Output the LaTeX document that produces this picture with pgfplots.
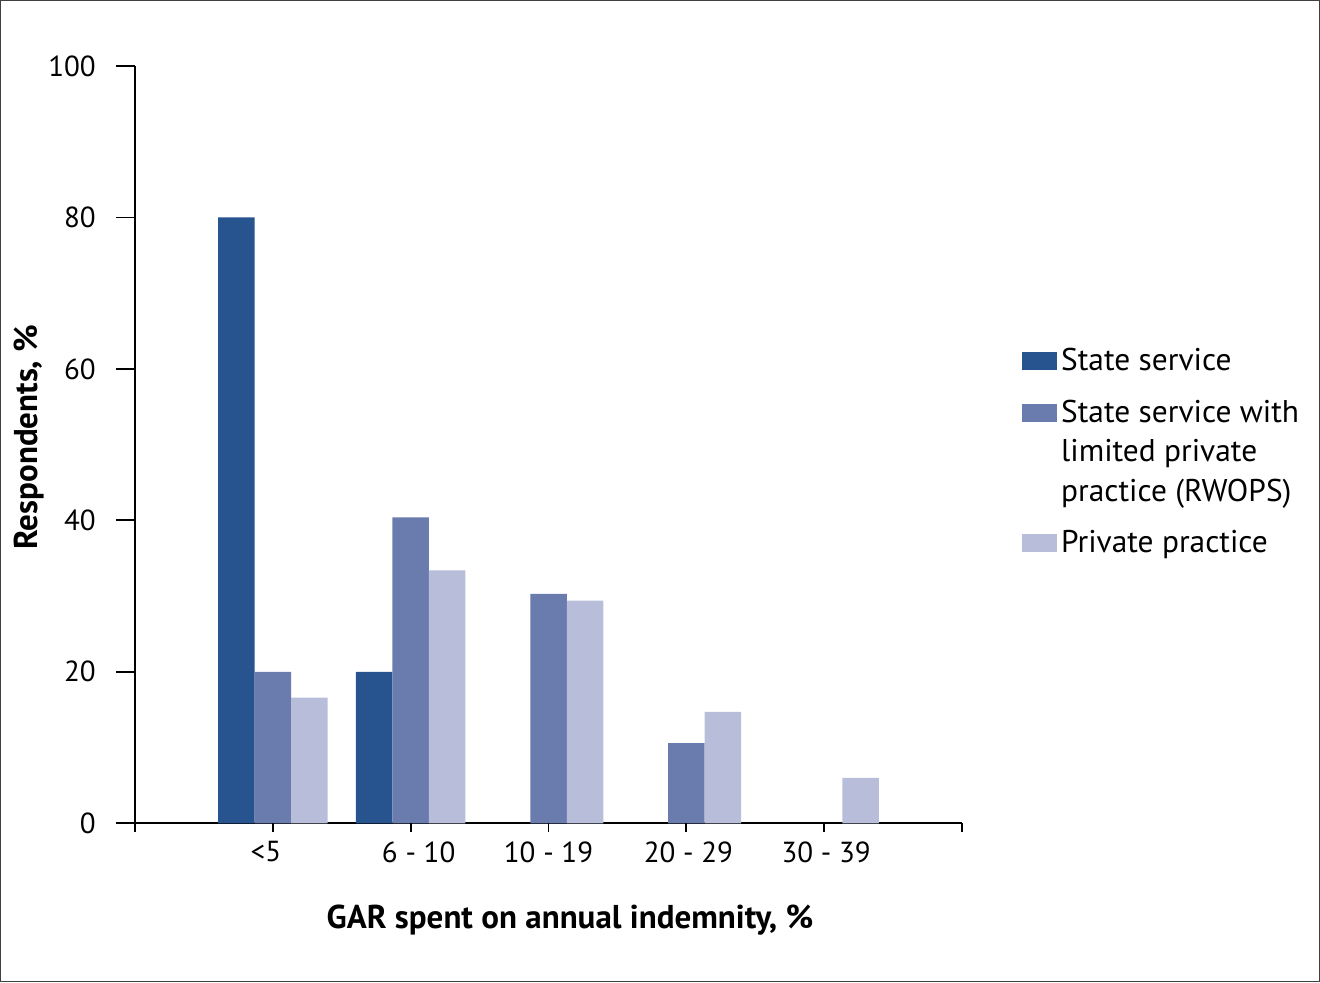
\documentclass[border=0pt]{standalone}
\usepackage{pgfplots}
\pgfplotsset{compat=1.18}
\usepackage{fontspec}
\setmainfont{PT Sans}
\definecolor{cA}{HTML}{27548E}
\definecolor{cB}{HTML}{6A7BAD}
\definecolor{cC}{HTML}{B8BDD9}
\begin{document}
\begin{tikzpicture}
\useasboundingbox (0,0) rectangle (660pt,491pt);
\draw[black!75, line width=0.7pt] (0.35pt,0.35pt) rectangle (659.65pt,490.65pt);
\begin{axis}[
  at={(67.5pt,79.35pt)}, anchor=south west,
  scale only axis, width=413.5pt, height=378.65pt,
  xmin=0, xmax=6, ymin=0, ymax=100,
  axis lines=left, axis line style={line width=0.9pt,-},
  clip=false,
  font=\fontsize{14.5}{17}\selectfont,
  /pgf/number format/assume math mode=true,
  ytick={0,20,...,100},
  xtick={1,...,5},
  xticklabels={{\hspace*{-7pt}\raisebox{-3pt}{<5}},{\hspace*{8pt}6 - 10},{10 - 19},{\hspace*{2pt}20 - 29},{\hspace*{2pt}30 - 39}},
  xtick style={draw=none},
  ytick style={line width=0.9pt, black},
  tick align=outside, major tick length=9.6pt,
  yticklabel style={xshift=-6.5pt},
  xticklabel style={yshift=4pt},
  ybar=0pt, bar width=18.25pt,
  xlabel={GAR spent on annual indemnity, \%},
  ylabel={Respondents, \%},
  label style={font=\fontsize{16.5}{20}\selectfont\bfseries},
  xlabel style={at={(axis description cs:0.526,-0.128)}, anchor=center},
  ylabel style={at={(axis description cs:-0.128,0.51)}, anchor=center},
  legend cell align=left,
  legend style={at={(axis description cs:1.065,0.638)}, anchor=north west,
    draw=none, fill=none, row sep=9pt, cells={align=left},
    font=\fontsize{15.7}{19.75}\selectfont},
  legend image code/.code={\fill[#1] (0pt,-4.5pt) rectangle (17.5pt,4.5pt);},
]
\addplot[fill=cA, draw=none] coordinates {(1,80) (2,20)};
\addplot[fill=cB, draw=none,
  legend image code/.code={\fill[cB] (0pt,15.25pt) rectangle (17.5pt,24.25pt);}]
  coordinates {(1,20) (2,40.4) (3,30.3) (4,10.6)};
\addplot[fill=cC, draw=none] coordinates {(1,16.6) (2,33.4) (3,29.4) (4,14.7) (5,6.0)};
\legend{State service,{State service with\\limited private\\practice (RWOPS)},Private practice}
\pgfplotsinvokeforeach{0,...,6}{\draw[line width=0.9pt] (axis cs:#1,0) -- ++(0pt,-4.5pt);}
\end{axis}
\end{tikzpicture}
\end{document}
